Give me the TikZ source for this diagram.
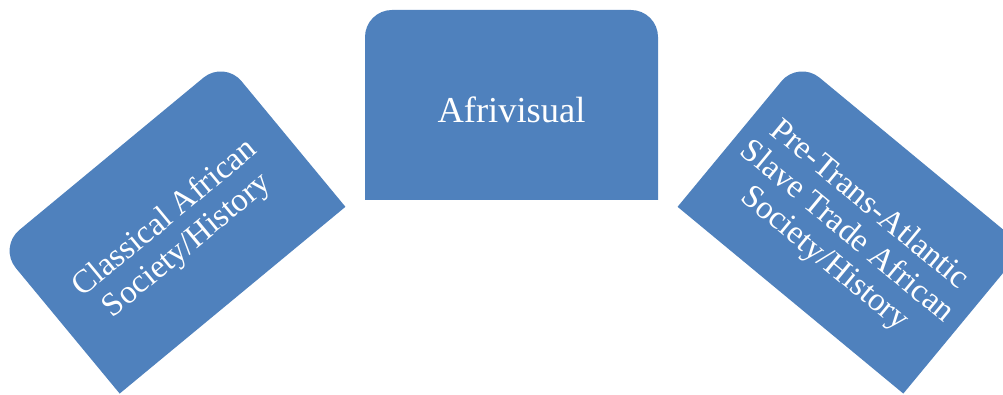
\documentclass[tikz,border=0pt]{standalone}
\usepackage{fontspec}
\setmainfont{Liberation Serif}
\usepackage{tikz}
\definecolor{tabblue}{HTML}{4F81BD}
\tikzset{
  tab/.pic={
    \fill[tabblue] (-146.5,-95) -- (146.5,-95) -- (146.5,68)
      arc[start angle=0, end angle=90, radius=27] -- (-119.5,95)
      arc[start angle=90, end angle=180, radius=27] -- cycle;
  },
  tabtext/.style={text=white, align=center, inner sep=0pt},
}

\begin{document}
\begin{tikzpicture}[x=1pt, y=1pt]
\useasboundingbox (0,0) rectangle (1003,395);
\pic at (511.5,290) {tab};
\pic[rotate=39.6] at (172,168) {tab};
\pic[rotate=-39.6] at (851,168) {tab};
% text sits a little below the middle of each shape
\node[tabtext, font=\fontsize{36.5}{42}\selectfont] (afri) at (511.5,285) {Afrivisual};
\node[tabtext, rotate=39.6, font=\fontsize{33}{35}\selectfont] (classical) at (176.5,162.6) {Classical African\\Society/History};
\node[tabtext, rotate=-39.6, font=\fontsize{33}{35}\selectfont] (pretrans) at (846.5,162.6) {Pre-Trans-Atlantic\\Slave Trade African\\Society/History};
\end{tikzpicture}
\end{document}
